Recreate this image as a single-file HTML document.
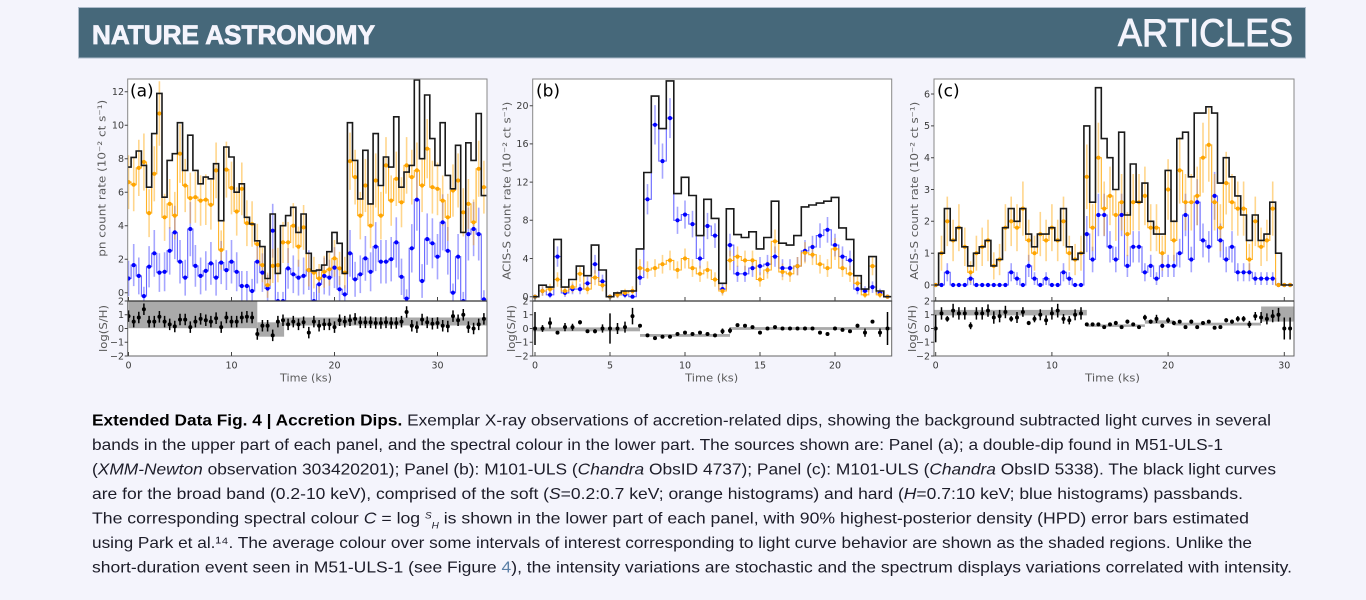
<!DOCTYPE html>
<html><head><meta charset="utf-8">
<style>
html,body{margin:0;padding:0;background:#f4f4fc;width:1366px;height:600px;overflow:hidden}
svg{display:block}
.tk{font-family:"DejaVu Sans","Liberation Sans",sans-serif;font-size:9.5px;fill:#3a3a3a}
.al{font-family:"DejaVu Sans","Liberation Sans",sans-serif;font-size:11px;fill:#5a5a5a}
.pl{font-family:"DejaVu Sans","Liberation Sans",sans-serif;font-size:17px;fill:#000}
.cap{font-family:"Liberation Sans",sans-serif;font-size:16px;fill:#1c1c28}
</style></head><body>
<svg id="s" width="1366" height="600" viewBox="0 0 1366 600" xmlns="http://www.w3.org/2000/svg">
<defs>
<clipPath id="au"><rect x="127.7" y="79" width="359.3" height="222"/></clipPath>
<clipPath id="al"><rect x="127.7" y="301" width="359.3" height="55"/></clipPath>
<clipPath id="bu"><rect x="532.7" y="79" width="359" height="222"/></clipPath>
<clipPath id="bl"><rect x="532.7" y="301" width="359" height="55"/></clipPath>
<clipPath id="cu"><rect x="934" y="79" width="360" height="222"/></clipPath>
<clipPath id="cl"><rect x="934" y="301" width="360" height="55"/></clipPath>
</defs>

<!-- header -->
<rect x="78.5" y="7.5" width="1227" height="50.5" fill="#46687a" stroke="#aebccb" stroke-width="1"/>
<text x="92" y="44" textLength="283" lengthAdjust="spacingAndGlyphs" font-family="Liberation Sans, sans-serif" font-weight="bold" font-size="27" fill="#f4f4fc" stroke="#f4f4fc" stroke-width="0.8">NATURE ASTRONOMY</text>
<text x="1118" y="46" textLength="175" lengthAdjust="spacingAndGlyphs" font-family="Liberation Sans, sans-serif" font-size="39" fill="#f4f4fc" stroke="#f4f4fc" stroke-width="0.9">ARTICLES</text>

<!-- axes backgrounds -->
<rect x="127.7" y="79" width="359.3" height="277" fill="#fff"/>
<rect x="532.7" y="79" width="359" height="277" fill="#fff"/>
<rect x="934" y="79" width="360" height="277" fill="#fff"/>

<g id="data"></g>

<!-- frames -->
<g fill="none" stroke="#666" stroke-width="1">
<rect x="127.7" y="79" width="359.3" height="222" stroke="#888"/>
<rect x="127.7" y="301" width="359.3" height="55"/>
<rect x="532.7" y="79" width="359" height="222" stroke="#888"/>
<rect x="532.7" y="301" width="359" height="55"/>
<rect x="934" y="79" width="360" height="222" stroke="#888"/>
<rect x="934" y="301" width="360" height="55"/>
</g>
<line x1="127.7" y1="301" x2="487" y2="301" stroke="#333" stroke-width="1.2"/>
<line x1="532.7" y1="301" x2="891.7" y2="301" stroke="#333" stroke-width="1.2"/>
<line x1="934" y1="301" x2="1294" y2="301" stroke="#333" stroke-width="1.2"/>

<!-- ticks -->
<g stroke="#444" stroke-width="1">
<path d="M128.5,301v-4M231.5,301v-4M334.5,301v-4M437.5,301v-4M128.5,356v-4M231.5,356v-4M334.5,356v-4M437.5,356v-4"/>
<path d="M127.7,292.7h-3M127.7,259.2h-3M127.7,225.7h-3M127.7,192.2h-3M127.7,158.7h-3M127.7,125.2h-3M127.7,91.7h-3M127.7,301h-3M127.7,314.75h-3M127.7,328.5h-3M127.7,342.25h-3M127.7,356h-3"/>
<path d="M535,301v-4M610,301v-4M685,301v-4M760,301v-4M835,301v-4M535,356v-4M610,356v-4M685,356v-4M760,356v-4M835,356v-4"/>
<path d="M532.7,296.7h-3M532.7,258.5h-3M532.7,220.3h-3M532.7,182.1h-3M532.7,143.9h-3M532.7,105.7h-3M532.7,301h-3M532.7,314.75h-3M532.7,328.5h-3M532.7,342.25h-3M532.7,356h-3"/>
<path d="M935.7,301v-4M1051.9,301v-4M1168.1,301v-4M1284.3,301v-4M935.7,356v-4M1051.9,356v-4M1168.1,356v-4M1284.3,356v-4"/>
<path d="M934,285h-3M934,253.2h-3M934,221.3h-3M934,189.5h-3M934,157.7h-3M934,125.9h-3M934,94h-3M934,301h-3M934,314.75h-3M934,328.5h-3M934,342.25h-3M934,356h-3"/>
</g>

<!-- tick labels panel a -->
<g class="tk" text-anchor="end">
<text x="124" y="296">0</text><text x="124" y="262.5">2</text><text x="124" y="229">4</text><text x="124" y="195.5">6</text><text x="124" y="162">8</text><text x="124" y="128.5">10</text><text x="124" y="95">12</text>
<text x="124" y="304.3">2</text><text x="124" y="318">1</text><text x="124" y="331.8">0</text><text x="124" y="345.5">−1</text><text x="124" y="359.3">−2</text>
</g>
<g class="tk" text-anchor="middle">
<text x="128.5" y="368.5">0</text><text x="231.5" y="368.5">10</text><text x="334.5" y="368.5">20</text><text x="437.5" y="368.5">30</text>
</g>
<!-- tick labels panel b -->
<g class="tk" text-anchor="end">
<text x="528.5" y="300">0</text><text x="528.5" y="261.8">4</text><text x="528.5" y="223.6">8</text><text x="528.5" y="185.4">12</text><text x="528.5" y="147.2">16</text><text x="528.5" y="109">20</text>
<text x="528.5" y="304.3">2</text><text x="528.5" y="318">1</text><text x="528.5" y="331.8">0</text><text x="528.5" y="345.5">−1</text><text x="528.5" y="359.3">−2</text>
</g>
<g class="tk" text-anchor="middle">
<text x="535" y="368.5">0</text><text x="610" y="368.5">5</text><text x="685" y="368.5">10</text><text x="760" y="368.5">15</text><text x="835" y="368.5">20</text>
</g>
<!-- tick labels panel c -->
<g class="tk" text-anchor="end">
<text x="930" y="288.3">0</text><text x="930" y="256.5">1</text><text x="930" y="224.6">2</text><text x="930" y="192.8">3</text><text x="930" y="161">4</text><text x="930" y="129.2">5</text><text x="930" y="97.3">6</text>
<text x="930" y="304.3">2</text><text x="930" y="318">1</text><text x="930" y="331.8">0</text><text x="930" y="345.5">−1</text><text x="930" y="359.3">−2</text>
</g>
<g class="tk" text-anchor="middle">
<text x="935.7" y="368.5">0</text><text x="1051.9" y="368.5">10</text><text x="1168.1" y="368.5">20</text><text x="1284.3" y="368.5">30</text>
</g>

<!-- axis labels -->
<g class="al" text-anchor="middle">
<text x="306" y="381.5" textLength="52" lengthAdjust="spacingAndGlyphs">Time (ks)</text>
<text x="711.7" y="381.5" textLength="53" lengthAdjust="spacingAndGlyphs">Time (ks)</text>
<text x="1112.5" y="381.5" textLength="55" lengthAdjust="spacingAndGlyphs">Time (ks)</text>
<text transform="translate(105.5,178.3) rotate(-90)" textLength="157" lengthAdjust="spacingAndGlyphs">pn count rate (10⁻² ct s⁻¹)</text>
<text transform="translate(510.5,190.8) rotate(-90)" textLength="178" lengthAdjust="spacingAndGlyphs">ACIS-S count rate (10⁻² ct s⁻¹)</text>
<text transform="translate(918,190.8) rotate(-90)" textLength="178" lengthAdjust="spacingAndGlyphs">ACIS-S count rate (10⁻² ct s⁻¹)</text>
<text transform="translate(107,328.5) rotate(-90)" textLength="47" lengthAdjust="spacingAndGlyphs">log(S/H)</text>
<text transform="translate(515,328.5) rotate(-90)" textLength="47" lengthAdjust="spacingAndGlyphs">log(S/H)</text>
<text transform="translate(916,328.5) rotate(-90)" textLength="47" lengthAdjust="spacingAndGlyphs">log(S/H)</text>
</g>

<!-- panel letters -->
<text class="pl" x="130" y="96.5">(a)</text>
<text class="pl" x="536" y="96.5">(b)</text>
<text class="pl" x="937" y="96.5">(c)</text>

<!-- caption -->
<text class="cap" x="92" y="425.5" textLength="1179" lengthAdjust="spacingAndGlyphs"><tspan font-weight="bold" fill="#000">Extended Data Fig. 4 | Accretion Dips.</tspan> Exemplar X-ray observations of accretion-related dips, showing the background subtracted light curves in several</text>
<text class="cap" x="92" y="450" textLength="1131" lengthAdjust="spacingAndGlyphs">bands in the upper part of each panel, and the spectral colour in the lower part. The sources shown are: Panel (a); a double-dip found in M51-ULS-1</text>
<text class="cap" x="92" y="474.5" textLength="1184" lengthAdjust="spacingAndGlyphs">(<tspan font-style="italic">XMM-Newton</tspan> observation 303420201); Panel (b): M101-ULS (<tspan font-style="italic">Chandra</tspan> ObsID 4737); Panel (c): M101-ULS (<tspan font-style="italic">Chandra</tspan> ObsID 5338). The black light curves</text>
<text class="cap" x="92" y="499" textLength="1151" lengthAdjust="spacingAndGlyphs">are for the broad band (0.2-10 keV), comprised of the soft (<tspan font-style="italic">S</tspan>=0.2:0.7 keV; orange histograms) and hard (<tspan font-style="italic">H</tspan>=0.7:10 keV; blue histograms) passbands.</text>
<text class="cap" x="92" y="523.5" textLength="1157" lengthAdjust="spacingAndGlyphs">The corresponding spectral colour <tspan font-style="italic">C</tspan> = log <tspan font-size="9" font-style="italic" dy="-5">S</tspan><tspan font-size="9" font-style="italic" dy="10">H</tspan><tspan dy="-5"> is shown in the lower part of each panel, with 90% highest-posterior density (HPD) error bars estimated</tspan></text>
<text class="cap" x="92" y="548" textLength="1160" lengthAdjust="spacingAndGlyphs">using Park et al.¹⁴. The average colour over some intervals of interest corresponding to light curve behavior are shown as the shaded regions. Unlike the</text>
<text class="cap" x="92" y="572.5" textLength="1200" lengthAdjust="spacingAndGlyphs">short-duration event seen in M51-ULS-1 (see Figure <tspan fill="#5b7fa6">4</tspan>), the intensity variations are stochastic and the spectrum displays variations correlated with intensity.</text>
</svg>

<script>
(function(){
var NS='http://www.w3.org/2000/svg';
var D=document.getElementById('data');
function el(tag,a,p){var e=document.createElementNS(NS,tag);for(var k in a)e.setAttribute(k,a[k]);p.appendChild(e);return e;}
function LY(v){return 328.5-v*13.75;}
function f(n){return n.toFixed(1);}
function panel(P){
  var X=function(t){return P.x0+t*P.sx;}, Y=function(v){return P.y0-v*P.sy;}, dt=0.5;
  var gu=el('g',{'clip-path':'url(#'+P.id+'u)'},D);
  var gl=el('g',{'clip-path':'url(#'+P.id+'l)'},D);
  function step(vals){var d='';vals.forEach(function(v,i){var t=i*dt,y=f(Y(v));d+=(i?'V'+y:'M'+f(X(t-dt/2))+','+y)+'H'+f(X(t+dt/2));});return d;}
  function errs(vals,ef,c,op){vals.forEach(function(v,i){var e=ef(v);if(e>0){var x=f(X(i*dt));el('line',{x1:x,x2:x,y1:f(Y(v-e)),y2:f(Y(v+e)),stroke:c,'stroke-width':1.6,'stroke-opacity':op},gu);}});}
  function pts(vals,c){vals.forEach(function(v,i){el('circle',{cx:f(X(i*dt)),cy:f(Y(v)),r:2.1,fill:c},gu);});}
  errs(P.blue,P.eb,'#0000ff',0.35);
  errs(P.orange,P.eo,'#ffa500',0.45);
  el('path',{d:step(P.blue),fill:'none',stroke:'#3030ff','stroke-width':1.1,'stroke-opacity':0.75},gu);
  el('path',{d:step(P.orange),fill:'none',stroke:'#ffa500','stroke-width':1.1,'stroke-opacity':0.85},gu);
  pts(P.blue,'#0000ff'); pts(P.orange,'#ffa500');
  el('path',{d:step(P.black),fill:'none',stroke:'#1a1a1a','stroke-width':1.6},gu);
  P.bands.forEach(function(b){el('rect',{x:f(X(b[0])),y:f(LY(b[3])),width:f(X(b[1])-X(b[0])),height:f(LY(b[2])-LY(b[3])),fill:'#aaaaaa'},gl);});
  P.low.forEach(function(v,i){var e=(typeof P.le==='number')?P.le:P.le[i];var x=f(X(i*dt));
    el('line',{x1:x,x2:x,y1:f(LY(v-e)),y2:f(LY(v+e)),stroke:'#000','stroke-width':1.5},gl);
    el('circle',{cx:x,cy:f(LY(v)),r:2,fill:'#000'},gl);});
}
function sq(v){return Math.sqrt(Math.max(v,0));}

panel({id:'a',x0:128.5,sx:10.3,y0:292.7,sy:16.75,
 black:[7.5,8.08,8.46,7.6,6.3,9.5,11.9,5.7,7.9,8.3,10.15,7.3,9.4,7.3,6.5,6.9,6.8,7.7,4.3,8.7,8.1,6.0,6.5,4.5,4.1,3.1,2.75,0.85,4.7,1.15,4.0,4.6,5.1,3.6,4.7,2.35,1.3,1.35,1.65,2.45,3.6,2.95,1.15,10.15,7.9,5.6,8.5,5.3,9.5,6.4,8.1,7.5,10.5,6.3,7.2,7.6,12.7,8.0,11.8,9.2,7.6,10.15,7.0,6.2,8.8,3.6,8.95,7.9,10.7,5.8],
 orange:[6.6,6.45,7.45,7.8,4.75,7.1,10.7,4.5,5.3,4.6,8.3,6.4,5.65,5.7,5.5,5.55,5.25,7.3,2.55,7.35,6.25,4.85,6.2,4.15,4.1,2.9,1.65,0.45,1.6,1.65,3.0,3.0,4.0,2.75,3.9,1.35,1.2,0.85,1.25,1.4,2.05,1.45,1.2,7.85,6.9,4.6,6.4,4.0,6.7,4.6,7.6,5.5,6.8,5.4,7.6,6.9,7.3,6.4,8.6,6.3,6.2,5.5,4.5,6.1,6.7,4.8,5.3,4.2,7.4,6.3],
 blue:[0.85,1.65,1.0,-0.2,1.55,2.35,1.2,1.25,2.5,3.6,1.85,0.9,3.8,1.6,1.0,1.3,1.75,0.9,1.8,1.35,1.85,1.25,0.4,0.4,0.1,1.85,1.2,0.25,3.7,-0.5,-0.5,1.45,1.1,0.9,1.0,1.35,-0.5,0.5,1.0,0.9,1.5,0.2,-0.1,2.35,0.8,1.1,2.05,1.25,2.75,1.85,1.85,2.0,3.0,0.95,-0.35,2.65,5.55,0.7,3.2,2.95,2.15,4.2,2.5,0.0,2.15,-0.5,3.5,3.8,3.5,-0.4],
 eo:function(v){return 0.45+0.45*sq(v);}, eb:function(v){return 0.55+0.55*sq(v);},
 bands:[[0,12.5,0.02,2.0],[12.5,15.1,-0.6,0.45],[15.1,35.5,0.22,0.8]],
 low:[0.9,0.5,0.8,1.4,0.5,0.5,0.85,0.5,0.3,0.15,0.65,0.65,0.1,0.5,0.7,0.6,0.5,0.75,0.1,0.8,0.5,0.5,0.8,0.85,0.8,-0.4,0.2,0.2,-0.5,0.5,0.6,0.3,0.5,0.3,0.45,-0.3,0.5,0.2,0.3,0.3,0.1,0.6,0.5,0.6,0.7,0.45,0.45,0.45,0.4,0.4,0.45,0.4,0.4,0.5,1.2,0.2,0.1,0.65,0.45,0.35,0.4,0.2,0.15,0.9,0.6,1.0,0.1,0.0,0.3,0.7],
 le:0.42});

panel({id:'b',x0:535,sx:15.0,y0:296.7,sy:9.55,
 black:[0,1.2,1.0,6.0,1.0,1.8,3.2,2.2,5.4,2.8,0,0.4,0.6,0.6,5.0,13.0,21,17.6,22.6,10.8,12.5,10.6,6.4,10.2,8.2,1.4,9.2,6.5,6.2,6.8,5.0,6.2,10.0,5.6,5.4,6.4,9.4,9.6,9.8,10.0,10.4,7.2,6.0,2.2,0.8,4.2,0.6,0],
 blue:[0,0.6,0.2,4.2,0.4,0.8,0.8,1.4,3.4,1.6,0,0.2,0.2,0,2.0,10.2,18.0,14.2,18.7,8.0,8.6,7.6,4.0,7.4,6.4,0.8,5.4,2.4,2.4,3.0,3.2,3.4,4.2,3.0,3.0,3.2,4.8,5.2,6.4,7.0,5.4,4.2,3.8,0.8,0.6,1.0,0.4,0],
 orange:[0,0.6,0.8,1.8,0.6,1.0,2.4,0.8,2.0,1.2,0,0.2,0.4,0.6,3.0,2.8,3.0,3.4,3.8,2.8,4.0,3.0,2.4,2.8,1.8,0.6,3.8,4.2,3.8,3.8,1.8,2.8,5.8,2.6,2.4,3.2,4.6,4.4,3.4,3.0,5.0,3.0,2.4,1.4,0.2,3.2,0.2,0],
 eo:function(v){return v>0?0.15+0.45*sq(v):0;}, eb:function(v){return v>0?0.15+0.45*sq(v):0;},
 bands:[[-0.5,7,-0.2,0.08],[7,13,-0.6,-0.4],[13,24,-0.1,0.1]],
 low:[0,0,0.4,-0.3,0.1,0.1,0.45,-0.2,-0.2,0,0,0,0.1,0.9,0.2,-0.5,-0.7,-0.6,-0.6,-0.4,-0.3,-0.4,-0.3,-0.4,-0.5,-0.2,-0.15,0.25,0.2,0.1,-0.3,0,0.1,0,0,0,0,0,-0.3,-0.4,0,-0.1,-0.2,0.2,-0.3,0.5,-0.3,0],
 le:[1.2,0.25,0.4,0.12,0.3,0.25,0.15,0.12,0.15,0.3,1.1,0.4,0.4,0.6,0.12,0.08,0.08,0.08,0.08,0.08,0.08,0.08,0.08,0.08,0.08,0.2,0.2,0.08,0.08,0.08,0.08,0.08,0.08,0.08,0.08,0.08,0.08,0.08,0.08,0.08,0.08,0.08,0.08,0.15,0.3,0.12,0.3,1.2]});

panel({id:'c',x0:935.7,sx:11.62,y0:285,sy:31.83,
 black:[0,1.0,2.4,1.4,1.8,1.2,0.6,1.0,1.2,1.4,0.6,0.8,1.8,2.4,2.0,2.4,1.6,1.2,1.6,1.6,1.8,1.4,2.4,1.2,0.8,1.0,5.0,2.6,6.2,4.6,4.0,3.0,4.8,2.2,3.8,2.6,3.2,2.0,1.6,1.6,3.6,2.0,4.6,4.8,3.4,5.4,5.4,5.6,5.4,3.2,4.0,3.4,2.8,2.2,1.4,2.2,1.4,1.6,2.6,1.0,0,0],
 orange:[0,1.0,2.0,1.4,1.8,1.2,0.4,1.0,1.2,1.4,0.6,0.8,1.8,2.0,1.8,2.4,1.4,1.0,1.6,1.4,1.8,1.4,2.0,1.0,0.8,1.0,3.4,1.8,4.0,2.4,2.8,2.2,2.6,1.6,2.6,2.6,2.8,1.8,1.8,1.0,3.0,1.4,3.6,2.6,2.6,2.8,4.0,4.4,2.6,1.8,3.2,2.6,2.4,2.4,0.8,2.0,1.2,1.4,2.4,0,0,0],
 blue:[0,0,0.4,0,0,0,0.2,0,0,0,0,0,0,0.4,0.2,0,0.6,0.2,0,0.2,0,0,0.4,0.2,0,0,1.6,0.8,2.2,2.2,1.2,0.8,2.2,0.6,1.2,1.2,0.4,0.6,0.2,0.6,0.6,0.6,1.0,2.2,0.8,2.6,1.4,1.2,2.8,1.4,0.8,1.2,0.4,0.4,0.4,0.2,0.2,0.2,0.2,0,0,0],
 eo:function(v){return v>0?0.55*sq(v):0;}, eb:function(v){return v>0?0.45*sq(v):0;},
 bands:[[-0.5,13,0.95,1.35],[13,18,0.12,0.3],[18,20.5,0.35,0.6],[20.5,28,0.22,0.42],[28,31,0.5,1.6]],
 low:[0,1.1,0.7,1.3,1.1,1.1,0.2,1.1,1.1,1.3,0.8,0.9,1.2,0.7,0.8,1.2,0.4,0.7,1.0,0.6,1.1,1.3,0.7,0.6,1.0,1.1,0.3,0.3,0.3,0.1,0.3,0.4,0.1,0.5,0.3,0.1,0.8,0.5,0.7,0.2,0.6,0.4,0.5,0.1,0.5,0.1,0.4,0.5,0.05,0.1,0.6,0.5,0.7,0.7,0.3,0.9,0.8,0.7,0.9,1.0,0,0],
 le:[1.0,0.45,0.2,0.5,0.45,0.45,0.25,0.45,0.45,0.45,0.45,0.45,0.45,0.2,0.4,0.35,0.15,0.25,0.4,0.35,0.45,0.5,0.35,0.3,0.4,0.45,0.08,0.08,0.08,0.08,0.08,0.15,0.08,0.15,0.1,0.1,0.2,0.15,0.3,0.15,0.2,0.15,0.1,0.08,0.15,0.08,0.1,0.1,0.08,0.08,0.15,0.15,0.2,0.2,0.25,0.3,0.4,0.4,0.45,0.5,0.8,0.8]});
})();
</script>
</body></html>
